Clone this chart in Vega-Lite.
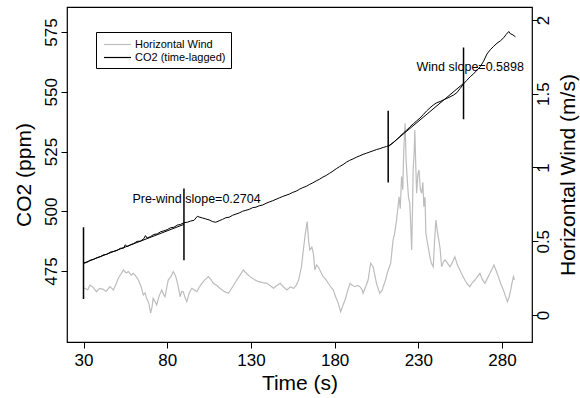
{
  "$schema": "https://vega.github.io/schema/vega-lite/v6.json",
  "width": 465,
  "height": 335,
  "autosize": "none",
  "padding": {"left": 67, "top": 7, "right": 48, "bottom": 56},
  "background": "white",
  "config": {
    "font": "Liberation Sans",
    "view": {"stroke": "black", "strokeWidth": 1.2},
    "axis": {
      "domain": false, "grid": false, "ticks": true, "tickColor": "black", "tickSize": 6, "tickWidth": 1,
      "labelFont": "Liberation Sans", "labelFontSize": 17, "labelColor": "black",
      "titleFont": "Liberation Sans", "titleFontSize": 21, "titleFontWeight": "normal", "titleColor": "black"
    },
    "axisX": {"labelPadding": 4, "titlePadding": 4},
    "axisLeft": {"labelAngle": 270, "labelPadding": 1, "titlePadding": 8},
    "axisRight": {"labelAngle": 270, "labelPadding": -3, "titleAngle": 270, "titleBaseline": "top", "titlePadding": 6},
    "legend": {
      "orient": "none", "legendX": 29, "legendY": 25, "direction": "vertical",
      "strokeColor": "black", "fillColor": "white", "padding": 5, "cornerRadius": 0,
      "symbolType": "M-2.08,0H2.08", "symbolSize": 169, "symbolStrokeWidth": 1.2, "symbolOffset": 9,
      "labelFont": "Liberation Sans", "labelFontSize": 11, "labelColor": "black", "labelOffset": 10,
      "rowPadding": 0, "title": null
    }
  },
  "datasets": {
    "co2": [
      {"t":30,"ppm":478.2},{"t":32,"ppm":478.6},{"t":34,"ppm":479.5},{"t":36,"ppm":479.9},{"t":38,"ppm":480.6},
      {"t":40,"ppm":481.0},{"t":42,"ppm":481.8},{"t":44,"ppm":482.0},{"t":46,"ppm":482.9},{"t":48,"ppm":483.2},
      {"t":50,"ppm":483.6},{"t":52,"ppm":484.5},{"t":54,"ppm":484.6},{"t":55,"ppm":486.0},{"t":56,"ppm":485.2},
      {"t":58,"ppm":486.0},{"t":60,"ppm":486.5},{"t":62,"ppm":487.4},{"t":64,"ppm":487.5},{"t":66,"ppm":488.5},
      {"t":67,"ppm":489.8},{"t":68,"ppm":488.8},{"t":70,"ppm":489.4},{"t":72,"ppm":490.3},{"t":74,"ppm":490.5},
      {"t":76,"ppm":491.4},{"t":78,"ppm":491.8},{"t":80,"ppm":492.3},{"t":82,"ppm":493.1},{"t":84,"ppm":493.3},
      {"t":86,"ppm":494.2},{"t":88,"ppm":494.5},{"t":90,"ppm":495.2},{"t":92,"ppm":495.4},{"t":94,"ppm":495.9},
      {"t":96,"ppm":496.2},{"t":98,"ppm":497.9},{"t":99,"ppm":497.6},{"t":101,"ppm":497.2},{"t":103,"ppm":496.8},
      {"t":105,"ppm":496.4},{"t":107,"ppm":495.7},{"t":109,"ppm":495.4},{"t":111,"ppm":496.0},{"t":113,"ppm":496.6},
      {"t":115,"ppm":497.3},{"t":117,"ppm":497.5},{"t":119,"ppm":498.3},{"t":121,"ppm":498.8},{"t":123,"ppm":499.3},
      {"t":125,"ppm":500.0},{"t":127,"ppm":500.4},{"t":129,"ppm":500.8},{"t":131,"ppm":501.5},{"t":133,"ppm":501.7},
      {"t":135,"ppm":502.3},{"t":137,"ppm":502.6},{"t":139,"ppm":503.3},{"t":141,"ppm":503.9},{"t":143,"ppm":504.4},
      {"t":145,"ppm":505.0},{"t":147,"ppm":505.6},{"t":149,"ppm":506.2},{"t":151,"ppm":506.7},{"t":153,"ppm":507.2},
      {"t":155,"ppm":507.9},{"t":157,"ppm":508.4},{"t":159,"ppm":509.2},{"t":161,"ppm":509.9},{"t":163,"ppm":510.4},
      {"t":165,"ppm":511.2},{"t":167,"ppm":511.9},{"t":169,"ppm":512.7},{"t":171,"ppm":513.4},{"t":173,"ppm":514.3},
      {"t":175,"ppm":515.0},{"t":177,"ppm":515.9},{"t":179,"ppm":516.8},{"t":181,"ppm":517.8},{"t":183,"ppm":518.7},
      {"t":185,"ppm":519.5},{"t":187,"ppm":520.5},{"t":189,"ppm":521.3},{"t":191,"ppm":521.9},{"t":193,"ppm":522.6},
      {"t":195,"ppm":523.2},{"t":197,"ppm":523.8},{"t":199,"ppm":524.3},{"t":201,"ppm":524.8},{"t":203,"ppm":525.3},
      {"t":205,"ppm":525.8},{"t":207,"ppm":526.2},{"t":209,"ppm":526.7},{"t":211,"ppm":527.1},{"t":213,"ppm":527.7},
      {"t":215,"ppm":528.7},{"t":217,"ppm":529.9},{"t":219,"ppm":531.3},{"t":221,"ppm":532.7},{"t":223,"ppm":533.9},
      {"t":225,"ppm":535.3},{"t":227,"ppm":536.6},{"t":229,"ppm":537.8},{"t":231,"ppm":539.0},{"t":233,"ppm":540.5},
      {"t":235,"ppm":542.0},{"t":237,"ppm":543.3},{"t":239,"ppm":544.5},{"t":241,"ppm":545.4},{"t":243,"ppm":545.9},
      {"t":245,"ppm":546.6},{"t":247,"ppm":547.2},{"t":249,"ppm":547.9},{"t":251,"ppm":548.6},{"t":253,"ppm":549.6},
      {"t":255,"ppm":551.4},{"t":257,"ppm":553.3},{"t":259,"ppm":554.8},{"t":261,"ppm":556.3},{"t":263,"ppm":557.5},
      {"t":265,"ppm":559.0},{"t":267,"ppm":560.5},{"t":269,"ppm":562.8},{"t":271,"ppm":565.8},{"t":273,"ppm":567.6},
      {"t":275,"ppm":569.0},{"t":277,"ppm":570.3},{"t":279,"ppm":571.3},{"t":281,"ppm":572.6},{"t":282.5,"ppm":574.0},
      {"t":284,"ppm":575.2},{"t":285,"ppm":574.3},{"t":286.5,"ppm":573.8},{"t":288,"ppm":573.0}
    ],
    "wind": [
      {"t":30.0,"ws":0.18},{"t":30.9,"ws":0.181},{"t":32.5,"ws":0.17},{"t":33.8,"ws":0.203},{"t":35.5,"ws":0.19},
      {"t":37.8,"ws":0.158},{"t":39.5,"ws":0.18},{"t":41.8,"ws":0.174},{"t":43.5,"ws":0.16},{"t":45.8,"ws":0.192},
      {"t":47.8,"ws":0.17},{"t":49.5,"ws":0.21},{"t":50.8,"ws":0.249},{"t":52.5,"ws":0.28},{"t":53.8,"ws":0.305},
      {"t":55.5,"ws":0.285},{"t":56.8,"ws":0.294},{"t":58.5,"ws":0.27},{"t":59.8,"ws":0.283},{"t":61.5,"ws":0.26},
      {"t":62.8,"ws":0.237},{"t":64.5,"ws":0.19},{"t":65.7,"ws":0.136},{"t":66.8,"ws":0.15},{"t":67.7,"ws":0.113},
      {"t":69.0,"ws":0.08},{"t":70.1,"ws":0.012},{"t":71.0,"ws":0.06},{"t":71.6,"ws":0.113},{"t":72.8,"ws":0.09},
      {"t":73.7,"ws":0.068},{"t":75.2,"ws":0.13},{"t":76.7,"ws":0.17},{"t":77.8,"ws":0.14},{"t":78.7,"ws":0.124},
      {"t":79.8,"ws":0.19},{"t":80.6,"ws":0.237},{"t":82.2,"ws":0.26},{"t":83.6,"ws":0.294},{"t":84.8,"ws":0.27},
      {"t":85.7,"ws":0.237},{"t":86.8,"ws":0.18},{"t":87.7,"ws":0.124},{"t":88.7,"ws":0.16},{"t":89.6,"ws":0.158},
      {"t":90.6,"ws":0.12},{"t":91.7,"ws":0.09},{"t":93.2,"ws":0.15},{"t":94.7,"ws":0.181},{"t":96.2,"ws":0.17},
      {"t":97.7,"ws":0.158},{"t":99.2,"ws":0.19},{"t":100.7,"ws":0.215},{"t":102.6,"ws":0.24},{"t":104.6,"ws":0.26},
      {"t":106.1,"ws":0.24},{"t":107.6,"ws":0.215},{"t":109.6,"ws":0.2},{"t":111.5,"ws":0.181},{"t":114.0,"ws":0.16},
      {"t":116.5,"ws":0.147},{"t":119.0,"ws":0.19},{"t":121.5,"ws":0.237},{"t":123.5,"ws":0.27},{"t":125.5,"ws":0.305},
      {"t":127.5,"ws":0.28},{"t":129.5,"ws":0.26},{"t":132.0,"ws":0.24},{"t":134.5,"ws":0.226},{"t":137.0,"ws":0.22},
      {"t":139.5,"ws":0.215},{"t":141.5,"ws":0.2},{"t":143.5,"ws":0.181},{"t":145.5,"ws":0.2},{"t":147.5,"ws":0.215},
      {"t":149.5,"ws":0.19},{"t":151.5,"ws":0.17},{"t":153.5,"ws":0.19},{"t":155.5,"ws":0.181},{"t":157.0,"ws":0.2},
      {"t":158.5,"ws":0.237},{"t":160.2,"ws":0.327},{"t":161.3,"ws":0.441},{"t":162.5,"ws":0.55},{"t":163.6,"ws":0.633},
      {"t":164.5,"ws":0.5},{"t":165.2,"ws":0.441},{"t":166.4,"ws":0.46},{"t":167.3,"ws":0.418},{"t":168.2,"ws":0.305},
      {"t":169.2,"ws":0.34},{"t":170.2,"ws":0.327},{"t":171.8,"ws":0.29},{"t":173.2,"ws":0.26},{"t":174.8,"ws":0.24},
      {"t":176.2,"ws":0.215},{"t":177.7,"ws":0.19},{"t":179.2,"ws":0.17},{"t":180.7,"ws":0.12},{"t":182.2,"ws":0.079},
      {"t":183.6,"ws":0.022},{"t":184.8,"ws":0.06},{"t":186.2,"ws":0.102},{"t":187.7,"ws":0.16},{"t":189.2,"ws":0.215},
      {"t":190.7,"ws":0.2},{"t":192.2,"ws":0.192},{"t":193.7,"ws":0.2},{"t":195.1,"ws":0.192},{"t":196.5,"ws":0.17},
      {"t":197.0,"ws":0.147},{"t":198.5,"ws":0.19},{"t":200.0,"ws":0.237},{"t":201.5,"ws":0.351},{"t":203.0,"ws":0.327},
      {"t":204.0,"ws":0.27},{"t":205.0,"ws":0.215},{"t":206.0,"ws":0.18},{"t":207.0,"ws":0.147},{"t":208.5,"ws":0.17},
      {"t":209.0,"ws":0.192},{"t":210.5,"ws":0.24},{"t":211.4,"ws":0.283},{"t":212.5,"ws":0.32},{"t":213.5,"ws":0.351},
      {"t":214.9,"ws":0.508},{"t":215.8,"ws":0.55},{"t":217.0,"ws":0.644},{"t":218.5,"ws":0.802},{"t":219.2,"ws":0.72},
      {"t":220.0,"ws":0.938},{"t":220.7,"ws":0.85},{"t":221.3,"ws":1.119},{"t":222.1,"ws":1.3},{"t":222.7,"ws":1.05},
      {"t":223.3,"ws":0.938},{"t":224.1,"ws":0.8},{"t":224.9,"ws":0.757},{"t":225.5,"ws":0.6},{"t":226.0,"ws":0.441},
      {"t":226.5,"ws":0.7},{"t":226.9,"ws":0.983},{"t":227.5,"ws":1.1},{"t":227.9,"ws":1.254},{"t":228.5,"ws":1.0},
      {"t":229.0,"ws":0.825},{"t":229.7,"ws":0.95},{"t":230.4,"ws":0.983},{"t":231.2,"ws":0.85},{"t":232.0,"ws":0.825},
      {"t":232.7,"ws":0.9},{"t":233.3,"ws":0.734},{"t":234.0,"ws":0.8},{"t":234.5,"ws":0.554},{"t":235.3,"ws":0.5},
      {"t":236.9,"ws":0.395},{"t":237.8,"ws":0.35},{"t":238.9,"ws":0.327},{"t":239.7,"ws":0.5},{"t":240.5,"ws":0.644},
      {"t":241.2,"ws":0.58},{"t":241.9,"ws":0.531},{"t":243.0,"ws":0.45},{"t":243.9,"ws":0.327},{"t":245.0,"ws":0.36},
      {"t":245.9,"ws":0.373},{"t":247.5,"ws":0.35},{"t":248.9,"ws":0.327},{"t":250.5,"ws":0.36},{"t":251.8,"ws":0.395},
      {"t":253.3,"ws":0.34},{"t":254.8,"ws":0.305},{"t":256.3,"ws":0.27},{"t":257.8,"ws":0.237},{"t":259.3,"ws":0.21},
      {"t":260.8,"ws":0.192},{"t":262.3,"ws":0.22},{"t":263.8,"ws":0.237},{"t":265.3,"ws":0.26},{"t":266.8,"ws":0.283},
      {"t":268.3,"ws":0.24},{"t":269.8,"ws":0.215},{"t":271.3,"ws":0.25},{"t":272.8,"ws":0.283},{"t":274.0,"ws":0.31},
      {"t":275.2,"ws":0.339},{"t":276.5,"ws":0.3},{"t":277.8,"ws":0.26},{"t":279.3,"ws":0.21},{"t":280.8,"ws":0.17},
      {"t":282.0,"ws":0.13},{"t":283.2,"ws":0.09},{"t":284.2,"ws":0.12},{"t":285.2,"ws":0.17},{"t":286.0,"ws":0.22},
      {"t":286.8,"ws":0.26},{"t":287.4,"ws":0.237}
    ],
    "fits": [
      {"seg":"pre","t":30,"ppm":478.3},{"seg":"pre","t":90,"ppm":494.5},
      {"seg":"wind","t":212,"ppm":527.0},{"seg":"wind","t":257,"ppm":553.5}
    ],
    "marks": [
      {"t":30,"lo":463.3,"hi":493.3},{"t":90,"lo":479.5,"hi":509.5},
      {"t":212,"lo":512.0,"hi":542.0},{"t":257,"lo":538.5,"hi":568.5}
    ],
    "labels": [
      {"t":97.5,"ppm":505.1,"txt":"Pre-wind slope=0.2704"},
      {"t":261.0,"ppm":560.3,"txt":"Wind slope=0.5898"}
    ]
  },
  "layer": [
    {
      "layer": [
        {
          "data": {"name": "wind"},
          "mark": {"type": "line", "strokeWidth": 1.2, "interpolate": "linear"},
          "encoding": {
            "x": {"field": "t", "type": "quantitative", "title": "Time (s)",
                  "scale": {"domain": [20.14, 297.9], "nice": false, "zero": false},
                  "axis": {"values": [30, 80, 130, 180, 230, 280]}},
            "y": {"field": "ws", "type": "quantitative", "title": "Horizontal Wind (m/s)",
                  "scale": {"domain": [-0.183, 2.088], "nice": false, "zero": false},
                  "axis": {"orient": "right", "values": [0, 0.5, 1, 1.5, 2], "format": "~g"}},
            "color": {"datum": "Horizontal Wind", "type": "nominal",
                      "scale": {"domain": ["Horizontal Wind", "CO2 (time-lagged)"], "range": ["#bdbdbd", "#000000"]}}
          }
        },
        {
          "mark": {"type": "rule", "color": "#333333", "strokeWidth": 1.3},
          "encoding": {"y": {"datum": 0, "type": "quantitative"}}
        }
      ]
    },
    {
      "layer": [
        {
          "data": {"name": "co2"},
          "mark": {"type": "line", "strokeWidth": 1},
          "encoding": {
            "x": {"field": "t", "type": "quantitative", "title": "Time (s)",
                  "scale": {"domain": [20.14, 297.9], "nice": false, "zero": false},
                  "axis": {"values": [30, 80, 130, 180, 230, 280]}},
            "y": {"field": "ppm", "type": "quantitative", "title": "CO2 (ppm)",
                  "scale": {"domain": [445.3, 585.46], "nice": false, "zero": false},
                  "axis": {"orient": "left", "values": [475, 500, 525, 550, 575]}},
            "color": {"datum": "CO2 (time-lagged)", "type": "nominal",
                      "scale": {"domain": ["Horizontal Wind", "CO2 (time-lagged)"], "range": ["#bdbdbd", "#000000"]}}
          }
        },
        {
          "data": {"name": "fits"},
          "mark": {"type": "line", "color": "black", "strokeWidth": 1},
          "encoding": {
            "x": {"field": "t", "type": "quantitative", "title": "Time (s)"},
            "y": {"field": "ppm", "type": "quantitative", "title": "CO2 (ppm)"},
            "detail": {"field": "seg"}
          }
        },
        {
          "data": {"name": "marks"},
          "mark": {"type": "rule", "color": "black", "strokeWidth": 1.5},
          "encoding": {
            "x": {"field": "t", "type": "quantitative", "title": "Time (s)"},
            "y": {"field": "lo", "type": "quantitative", "title": "CO2 (ppm)"},
            "y2": {"field": "hi"}
          }
        },
        {
          "data": {"name": "labels"},
          "mark": {"type": "text", "fontSize": 12.5, "font": "Liberation Sans", "color": "black", "align": "center", "baseline": "middle"},
          "encoding": {
            "x": {"field": "t", "type": "quantitative", "title": "Time (s)"},
            "y": {"field": "ppm", "type": "quantitative", "title": "CO2 (ppm)"},
            "text": {"field": "txt"}
          }
        }
      ]
    }
  ],
  "resolve": {"scale": {"y": "independent"}, "axis": {"y": "independent"}}
}
